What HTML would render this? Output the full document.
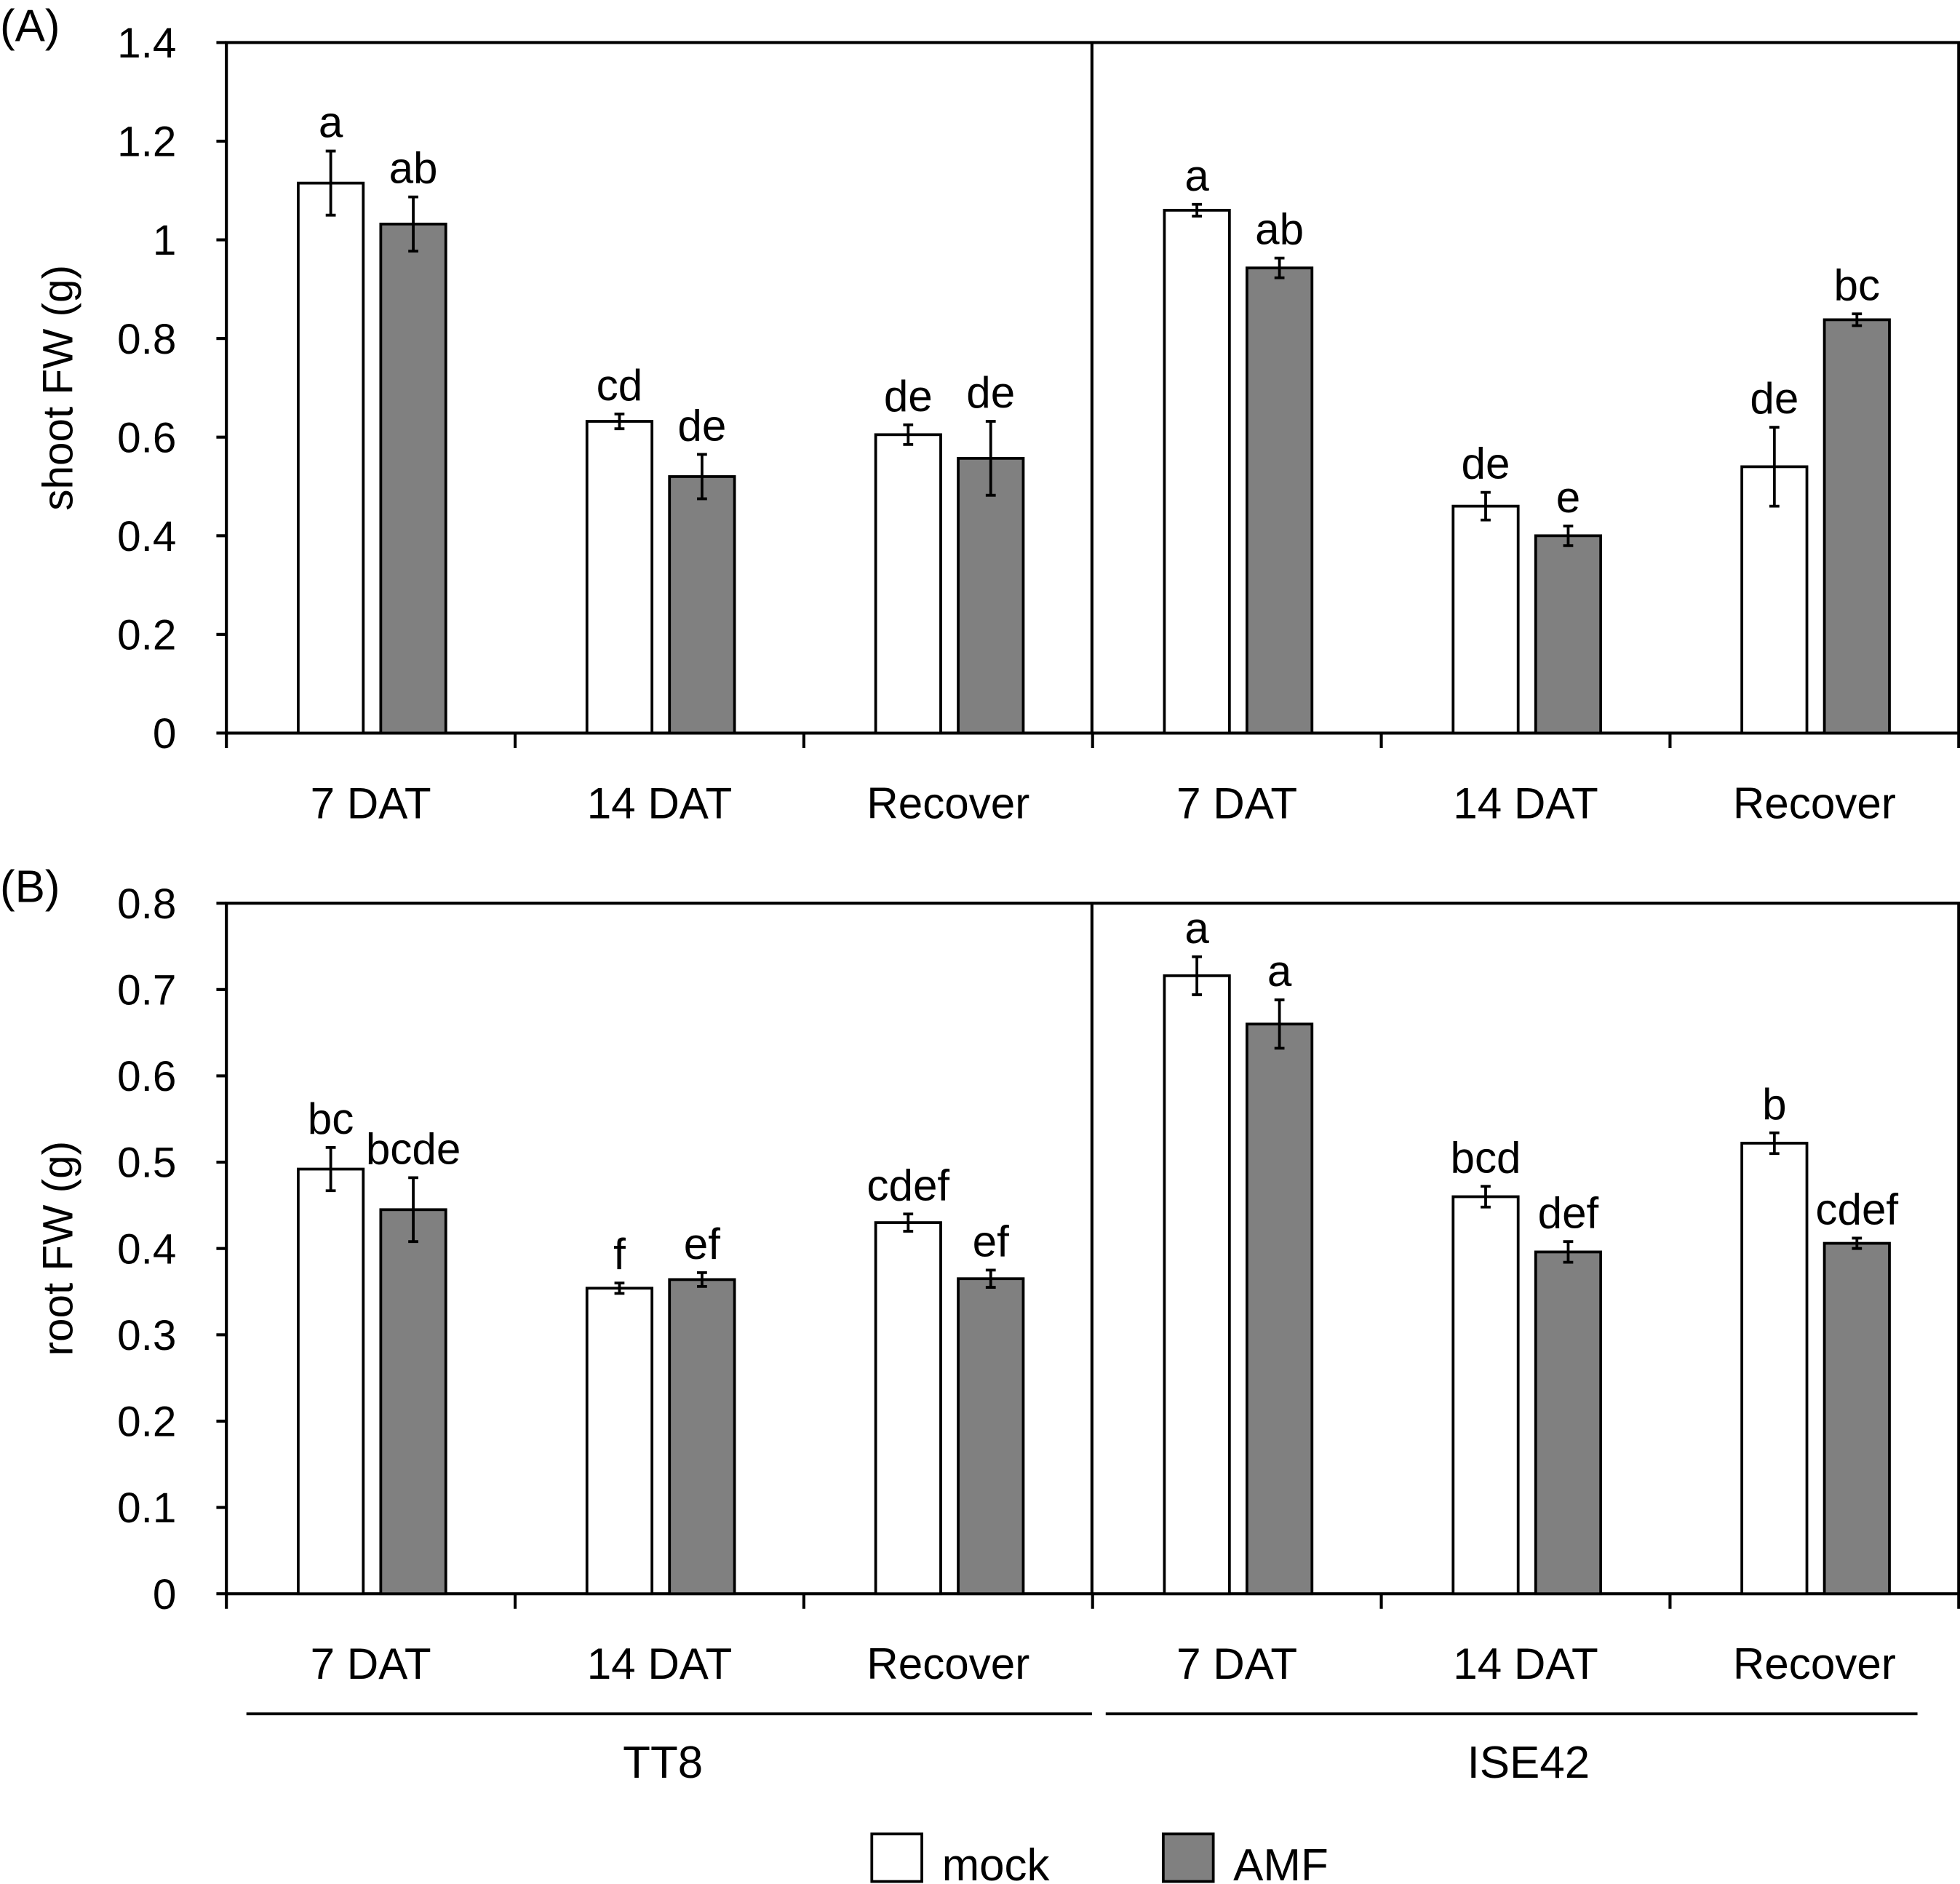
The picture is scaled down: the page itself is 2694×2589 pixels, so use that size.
<!DOCTYPE html>
<html><head><meta charset="utf-8"><style>html,body{margin:0;padding:0;background:#fff}svg{display:block}text{font-family:"Liberation Sans",sans-serif;fill:#000}</style></head>
<body>
<svg id="chart" width="2694" height="2589" viewBox="0 0 1567 1506" preserveAspectRatio="none" xmlns="http://www.w3.org/2000/svg"></svg>
<script>
const categories = ["7 DAT","14 DAT","Recover","7 DAT","14 DAT","Recover"];
const genotypes = ["TT8","ISE42"];
const shootMock = [1.115,0.632,0.605,1.06,0.46,0.54];
const shootMockErr = [0.065,0.015,0.02,0.012,0.028,0.08];
const shootAMF = [1.032,0.52,0.557,0.943,0.40,0.838];
const shootAMFErr = [0.055,0.045,0.075,0.02,0.02,0.012];
const shootMockLetters = ["a","cd","de","a","de","de"];
const shootAMFLetters = ["ab","de","de","ab","e","bc"];
const rootMock = [0.492,0.354,0.43,0.716,0.46,0.522];
const rootMockErr = [0.025,0.006,0.01,0.022,0.012,0.012];
const rootAMF = [0.445,0.364,0.365,0.66,0.396,0.406];
const rootAMFErr = [0.037,0.008,0.01,0.028,0.012,0.006];
const rootMockLetters = ["bc","f","cdef","a","bcd","b"];
const rootAMFLetters = ["bcde","ef","ef","a","def","cdef"];
const shootTicks = ["0","0.2","0.4","0.6","0.8","1","1.2","1.4"];
const rootTicks = ["0","0.1","0.2","0.3","0.4","0.5","0.6","0.7","0.8"];

const svg = document.getElementById('chart');
const NS = "http://www.w3.org/2000/svg";
function mk(tag, attrs, parent){const e=document.createElementNS(NS,tag);for(const k in attrs)e.setAttribute(k,attrs[k]);(parent||svg).appendChild(e);return e;}
const L=181,R=1566,gw=(R-L)/6;
function panel(name,top,bottom,max,ticks,mock,mErr,amf,aErr,mLet,aLet,title,tag){
  const g=mk('g',{});
  
  
  const y=v=>bottom-(v/max)*(bottom-top);
  const ax=mk('path',{d:`M${L} ${top}H${R}V${bottom}H${L}Z M873 ${top}V${bottom}`,fill:'none',stroke:'#000','stroke-width':2.4},g);
  
  
  ticks.forEach(t=>{const v=parseFloat(t);
    mk('line',{x1:L-8,x2:L,y1:y(v),y2:y(v),stroke:'#000','stroke-width':2.4},g);
    const tx=mk('text',{x:L-40,y:y(v)+12,'text-anchor':'end','font-size':34},g);tx.textContent=t;
    
    });
  for(let i=0;i<=6;i++){mk('line',{x1:L+i*gw,x2:L+i*gw,y1:bottom,y2:bottom+12,stroke:'#000','stroke-width':2.4},g);}
  categories.forEach((c,i)=>{const cx=L+(i+0.5)*gw;
    const tx=mk('text',{x:cx,y:bottom+68,'text-anchor':'middle','font-size':35},g);tx.textContent=c;
    
    
    [[mock,mErr,mLet,cx-58,'#fff','mock'],[amf,aErr,aLet,cx+8,'#808080','amf']].forEach(([vals,err,let_,x0,fill,s])=>{
      const v=vals[i],e=err[i];
      const b=mk('rect',{x:x0,y:y(v),width:52,height:bottom-y(v),fill:fill,stroke:'#000','stroke-width':2.2},g);
      
      
      const ex=x0+26;
      mk('path',{d:`M${ex} ${y(v+e)}V${y(v-e)}M${ex-4} ${y(v+e)}H${ex+4}M${ex-4} ${y(v-e)}H${ex+4}`,stroke:'#000','stroke-width':2.2,fill:'none'},g);
      const lt=mk('text',{x:ex,y:y(v+e)-11,'text-anchor':'middle','font-size':35},g);lt.textContent=let_[i];
      
      
    });
  });
  const yt=mk('text',{x:0,y:0,transform:`translate(58 ${(top+bottom)/2}) rotate(-90)`,'text-anchor':'middle','font-size':34},g);yt.textContent=title;
  
  
  const pl=mk('text',{x:0,y:top-1,'font-size':36},g);pl.textContent=tag;
  
  
}
panel('panel-a-shoot',34,586,1.4,shootTicks,shootMock,shootMockErr,shootAMF,shootAMFErr,shootMockLetters,shootAMFLetters,'shoot FW (g)','(A)');
panel('panel-b-root',722,1274,0.8,rootTicks,rootMock,rootMockErr,rootAMF,rootAMFErr,rootMockLetters,rootAMFLetters,'root FW (g)','(B)');
[[197,873,530],[884,1533,1222]].forEach((p,i)=>{
  mk('line',{x1:p[0],x2:p[1],y1:1370,y2:1370,stroke:'#000','stroke-width':2.2});
  const t=mk('text',{x:p[2],y:1421,'text-anchor':'middle','font-size':36});t.textContent=genotypes[i];
  
  
});
[[697,'#fff','mock'],[930,'#808080','AMF']].forEach(([x,f,l])=>{
  const r=mk('rect',{x:x,y:1466,width:40,height:38,fill:f,stroke:'#000','stroke-width':2.2});
  
  
  const t=mk('text',{x:x+56,y:1503,'font-size':36});t.textContent=l;
  
  
});
</script>
</body></html>
